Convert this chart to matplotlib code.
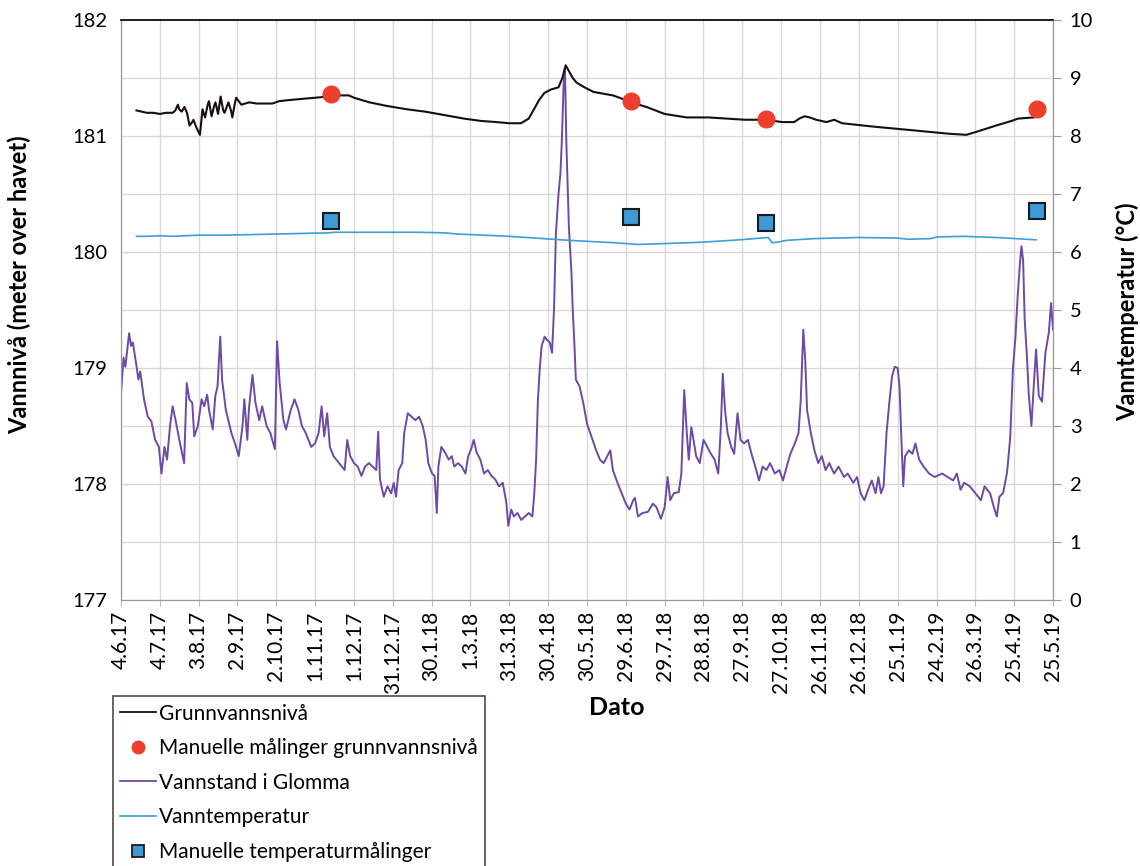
import matplotlib
matplotlib.use("Agg")
import matplotlib.pyplot as plt
from matplotlib.lines import Line2D
import numpy as np

plt.rcParams['font.family'] = ['Lato', 'DejaVu Sans']

# x tick labels (every 30 days from 4.6.17)
tick_labels = ["4.6.17", "4.7.17", "3.8.17", "2.9.17", "2.10.17", "1.11.17", "1.12.17",
               "31.12.17", "30.1.18", "1.3.18", "31.3.18", "30.4.18", "30.5.18", "29.6.18",
               "29.7.18", "28.8.18", "27.9.18", "27.10.18", "26.11.18", "26.12.18",
               "25.1.19", "24.2.19", "26.3.19", "25.4.19", "25.5.19"]
tick_days = [0, 30, 60, 90, 120, 150, 180, 210, 240, 270, 300, 330, 360, 390, 420, 450,
             480, 510, 540, 570, 600, 630, 660, 690, 720]

# Grunnvannsnivå (m o.h.), day offset from 4.6.17
gw_days = [12, 16, 20, 25, 30, 35, 40, 42, 44, 45, 47, 49, 51, 53, 55, 56, 58, 61, 63, 65,
           67, 68, 70, 72, 73, 75, 77, 79, 80, 83, 85, 86, 88, 89, 91, 93, 96, 99, 105, 110,
           117, 122, 130, 140, 150, 160, 170, 176, 180, 192, 205, 221, 235, 250, 265, 278,
           290, 300, 309, 315, 319, 323, 327, 332, 338, 341, 343.5, 346, 349, 352, 358, 365,
           380, 390, 394, 406, 420, 437, 454, 482, 498, 504, 511, 520, 524, 528, 532, 537,
           545, 551, 557, 582, 611, 639, 653, 662, 676, 688, 693, 705]
gw_vals = [181.22, 181.21, 181.20, 181.20, 181.19, 181.20, 181.20, 181.22, 181.27, 181.23,
           181.21, 181.25, 181.20, 181.09, 181.12, 181.14, 181.08, 181.01, 181.23, 181.16,
           181.27, 181.30, 181.17, 181.26, 181.29, 181.19, 181.34, 181.22, 181.20, 181.29,
           181.22, 181.16, 181.28, 181.33, 181.30, 181.27, 181.28, 181.29, 181.28, 181.28,
           181.28, 181.30, 181.31, 181.32, 181.33, 181.34, 181.35, 181.35, 181.33, 181.29,
           181.26, 181.23, 181.21, 181.18, 181.15, 181.13, 181.12, 181.11, 181.11, 181.15,
           181.23, 181.31, 181.37, 181.40, 181.42, 181.50, 181.61, 181.56, 181.50, 181.46,
           181.42, 181.38, 181.35, 181.31, 181.29, 181.25, 181.19, 181.16, 181.16, 181.14,
           181.14, 181.13, 181.12, 181.12, 181.15, 181.17, 181.16, 181.14, 181.12, 181.14,
           181.11, 181.08, 181.05, 181.02, 181.01, 181.04, 181.09, 181.13, 181.15, 181.16]

# Manuelle målinger grunnvannsnivå
man_gw_days = [162, 394, 498, 708]
man_gw_vals = [181.36, 181.30, 181.15, 181.23]

# Vannstand i Glomma (m o.h.)
gl_days = [0, 2.0, 3.4, 6.3, 7.8, 9.2, 12.1, 13.5, 14.9, 17.8, 20.7, 23.5, 26.4, 29.3, 31.3,
           33.6, 35.6, 37.9, 39.9, 42.2, 45.1, 48.8, 50.8, 52.8, 55.1, 56.6, 59.4, 62.3, 64.3,
           66.6, 68.0, 70.9, 72.9, 74.6, 76.7, 78.1, 81.0, 85.3, 88.1, 91.0, 93.9, 95.3, 97.6,
           98.8, 101.6, 103.9, 106.8, 109.1, 112.5, 115.4, 118.9, 120.6, 122.6, 125.5, 127.5,
           131.2, 134.1, 137.0, 139.8, 142.7, 147.0, 149.9, 152.7, 155.0, 157.0, 159.3, 161.4,
           164.2, 168.5, 172.8, 174.8, 177.1, 180.0, 182.9, 185.8, 188.6, 191.5, 194.4, 197.2,
           198.7, 200.1, 203.0, 205.9, 208.7, 210.7, 212.5, 214.5, 217.3, 218.8, 221.6, 224.5,
           227.4, 230.3, 233.1, 235.4, 237.4, 240.3, 242.3, 244.0, 245.2, 247.5, 250.4, 253.2,
           255.5, 257.5, 260.4, 263.3, 266.1, 268.2, 270.5, 272.5, 274.8, 277.6, 280.5, 283.4,
           286.2, 289.1, 292.0, 294.9, 297.7, 299.2, 301.5, 303.5, 306.3, 309.2, 312.1, 315.0,
           317.8, 319.3, 320.7, 322.1, 323.6, 325.0, 327.3, 329.3, 331.3, 333.0, 334.5, 336.0,
           338.0, 339.5, 340.5, 342.0, 343.0, 344.0, 345.0, 346.0, 348.0, 349.0, 350.5, 351.4,
           354.3, 357.1, 360.0, 364.3, 367.1, 370.0, 372.9, 375.7, 378.0, 380.0, 382.9, 385.7,
           390.0, 392.9, 395.7, 397.1, 399.4, 402.9, 407.1, 410.9, 413.7, 417.1, 420.0, 422.3,
           424.3, 427.1, 430.9, 432.9, 435.1, 437.1, 438.6, 440.6, 442.3, 444.3, 447.1, 450.0,
           452.9, 455.7, 458.6, 461.4, 463.4, 464.9, 466.6, 468.6, 471.4, 473.7, 476.3, 478.6,
           481.4, 484.3, 487.1, 490.0, 492.9, 495.7, 498.6, 501.4, 505.1, 508.6, 511.4, 514.3,
           517.1, 520.6, 523.4, 525.1, 527.1, 528.6, 530.0, 532.9, 535.7, 538.6, 541.4, 544.3,
           547.1, 550.9, 554.3, 558.6, 561.4, 565.7, 568.6, 571.4, 574.3, 577.1, 580.0, 582.9,
           585.1, 587.1, 589.1, 591.4, 593.7, 595.7, 597.7, 600.0, 601.4, 602.9, 604.3, 605.7,
           608.6, 611.4, 613.7, 616.6, 620.0, 624.3, 628.6, 634.3, 638.6, 642.9, 645.7, 648.6,
           651.4, 655.7, 660.0, 664.3, 667.1, 671.4, 674.3, 676.6, 678.6, 681.4, 684.5, 687.0,
           689.0, 691.0, 692.7, 694.3, 695.6, 696.9, 698.1, 700.0, 701.2, 703.3, 705.1, 706.9,
           709.0, 711.5, 714.1, 716.7, 718.5, 720.0]
gl_vals = [178.78, 179.09, 179.01, 179.30, 179.19, 179.22, 179.01, 178.90, 178.97, 178.73,
           178.58, 178.54, 178.38, 178.32, 178.09, 178.32, 178.21, 178.50, 178.67, 178.55,
           178.38, 178.18, 178.87, 178.73, 178.70, 178.41, 178.50, 178.73, 178.67, 178.77,
           178.64, 178.47, 178.76, 178.84, 179.27, 178.90, 178.64, 178.44, 178.35, 178.24,
           178.50, 178.73, 178.38, 178.64, 178.94, 178.70, 178.55, 178.67, 178.50, 178.44,
           178.30, 179.23, 178.87, 178.55, 178.47, 178.64, 178.73, 178.64, 178.50, 178.44,
           178.32, 178.35, 178.44, 178.67, 178.41, 178.61, 178.32, 178.24, 178.18, 178.12,
           178.38, 178.24, 178.18, 178.15, 178.07, 178.15, 178.18, 178.15, 178.12, 178.45,
           178.04, 177.89, 177.98, 177.92, 178.01, 177.89, 178.12, 178.18, 178.44, 178.61,
           178.58, 178.55, 178.58, 178.50, 178.38, 178.18, 178.09, 178.07, 177.75, 178.15,
           178.32, 178.27, 178.21, 178.24, 178.15, 178.18, 178.15, 178.09, 178.24, 178.30,
           178.38, 178.27, 178.21, 178.09, 178.12, 178.07, 178.04, 177.98, 178.01, 177.84,
           177.64, 177.78, 177.72, 177.75, 177.69, 177.72, 177.75, 177.72, 177.92, 178.21,
           178.73, 179.01, 179.19, 179.27, 179.24, 179.22, 179.13, 179.50, 180.16, 180.50,
           180.68, 180.94, 181.46, 181.58, 180.97, 180.60, 180.22, 179.82, 179.50, 179.15,
           178.90, 178.84, 178.70, 178.52, 178.38, 178.29, 178.21, 178.18, 178.24, 178.29,
           178.12, 178.03, 177.95, 177.83, 177.78, 177.86, 177.88, 177.72, 177.75, 177.76,
           177.83, 177.80, 177.70, 177.80, 178.06, 177.86, 177.92, 177.93, 178.09, 178.81,
           178.44, 178.21, 178.49, 178.38, 178.24, 178.18, 178.38, 178.32, 178.26, 178.21,
           178.09, 178.49, 178.95, 178.64, 178.44, 178.32, 178.26, 178.61, 178.38, 178.35,
           178.38, 178.26, 178.15, 178.03, 178.15, 178.12, 178.18, 178.09, 178.12, 178.03,
           178.15, 178.26, 178.35, 178.44, 178.72, 179.33, 179.07, 178.64, 178.44, 178.29,
           178.18, 178.24, 178.12, 178.18, 178.09, 178.15, 178.06, 178.09, 178.01, 178.06,
           177.92, 177.86, 177.95, 178.03, 177.92, 178.06, 177.92, 177.98, 178.44, 178.72,
           178.93, 179.01, 179.00, 178.84, 178.38, 177.98, 178.24, 178.29, 178.26, 178.35,
           178.21, 178.15, 178.09, 178.06, 178.09, 178.06, 178.03, 178.09, 177.95, 178.01,
           177.98, 177.92, 177.86, 177.98, 177.92, 177.80, 177.72, 177.89, 177.92, 178.10,
           178.41, 178.99, 179.27, 179.62, 179.88, 180.05, 179.93, 179.42, 179.07, 178.78,
           178.50, 178.84, 179.16, 178.76, 178.71, 179.13, 179.30, 179.56, 179.33]

# Vanntemperatur (°C)
wt_days = [12, 20, 30, 40, 50, 60, 80, 100, 120, 140, 160, 165, 200, 230, 250, 260, 280, 300,
           320, 340, 355, 381, 399, 420, 450, 478, 500, 503, 507, 514, 535, 569, 600, 608, 625,
           631, 651, 676, 707]
wt_vals = [6.27, 6.27, 6.28, 6.27, 6.28, 6.29, 6.29, 6.30, 6.31, 6.32, 6.33, 6.34, 6.34, 6.34,
           6.33, 6.31, 6.29, 6.27, 6.24, 6.21, 6.19, 6.16, 6.13, 6.145, 6.17, 6.21, 6.25, 6.16,
           6.17, 6.20, 6.23, 6.25, 6.24, 6.22, 6.23, 6.26, 6.27, 6.25, 6.21]

# Manuelle temperaturmålinger
man_t_days = [162, 394, 498, 708]
man_t_vals = [6.53, 6.60, 6.50, 6.70]

c_gw = "#1c0d0d"
c_red = "#ec3f2c"
c_gl = "#6d4aa3"
c_wt = "#3d9fd6"
c_sq = "#3c9ad4"

fig = plt.figure(figsize=(11.4, 8.66), dpi=100)
ax = fig.add_axes([0.1061, 0.3072, 0.8176, 0.6697])
ax2 = ax.twinx()

ax.set_xlim(0, 720)
ax.set_ylim(177, 182)
ax2.set_ylim(0, 10)

ax.set_xticks(tick_days)
ax.set_xticklabels(tick_labels, rotation=90, fontsize=15)
ax.set_yticks([177, 178, 179, 180, 181, 182])
ax.set_yticks(np.arange(177.5, 182, 1.0), minor=True)
ax.tick_params(axis='y', which='both', length=0, labelsize=14.5, pad=10)
ax.tick_params(axis='x', length=4, color='#bbbbbb', pad=4)
ax2.set_yticks(range(0, 11))
ax2.tick_params(axis='y', length=6, color='#999999', labelsize=14.5, pad=6)

ax.grid(True, which='both', color='#d9d9d9', lw=1)
ax.set_axisbelow(True)

ax.plot(gl_days, gl_vals, color=c_gl, lw=1.4, zorder=3)
ax.plot(gw_days, gw_vals, color=c_gw, lw=1.5, zorder=4)
ax.plot(man_gw_days, man_gw_vals, 'o', color=c_red, ms=12, zorder=5)
ax2.plot(wt_days, wt_vals, color=c_wt, lw=1.2, zorder=3)
ax2.plot(man_t_days, man_t_vals, 's', color=c_sq, mec='#1a1a22', mew=1.5, ms=12, zorder=5)

for sp in ['left', 'bottom', 'right']:
    ax.spines[sp].set_color('#999999')
    ax2.spines[sp].set_color('#999999')
ax.spines['top'].set_color('#2a1a1a')
ax2.spines['top'].set_color('#2a1a1a')
ax.spines['top'].set_linewidth(1.2)
ax2.spines['top'].set_linewidth(1.2)

ax.set_ylabel("Vannnivå (meter over havet)", fontsize=17, fontweight='bold')
ax.yaxis.set_label_coords(-0.096, 0.543)
ax2.set_ylabel("Vanntemperatur (°C)", fontsize=17, fontweight='bold')
ax2.yaxis.set_label_coords(1.067, 0.497)
ax.set_xlabel("Dato", fontsize=18, fontweight='bold')
ax.xaxis.set_label_coords(0.532, -0.165)

handles = [Line2D([], [], color=c_gw, lw=1.3),
           Line2D([], [], color=c_red, marker='o', ls='none', ms=9),
           Line2D([], [], color=c_gl, lw=1.3),
           Line2D([], [], color=c_wt, lw=1.2),
           Line2D([], [], color=c_sq, marker='s', ls='none', ms=8, mec='#1a1a22', mew=1.3)]
labels = ["Grunnvannsnivå", "Manuelle målinger grunnvannsnivå", "Vannstand i Glomma",
          "Vanntemperatur", "Manuelle temperaturmålinger"]
leg = fig.legend(handles, labels, loc='upper left', bbox_to_anchor=(0.099, 0.196),
                 fontsize=15, frameon=True, fancybox=False, edgecolor='#2a1a1a',
                 handlelength=1.7, handletextpad=0.15, labelspacing=0.7, borderpad=0.35,
                 borderaxespad=0.0)
leg.get_frame().set_linewidth(1.2)

fig.savefig("out.png", dpi=100)
